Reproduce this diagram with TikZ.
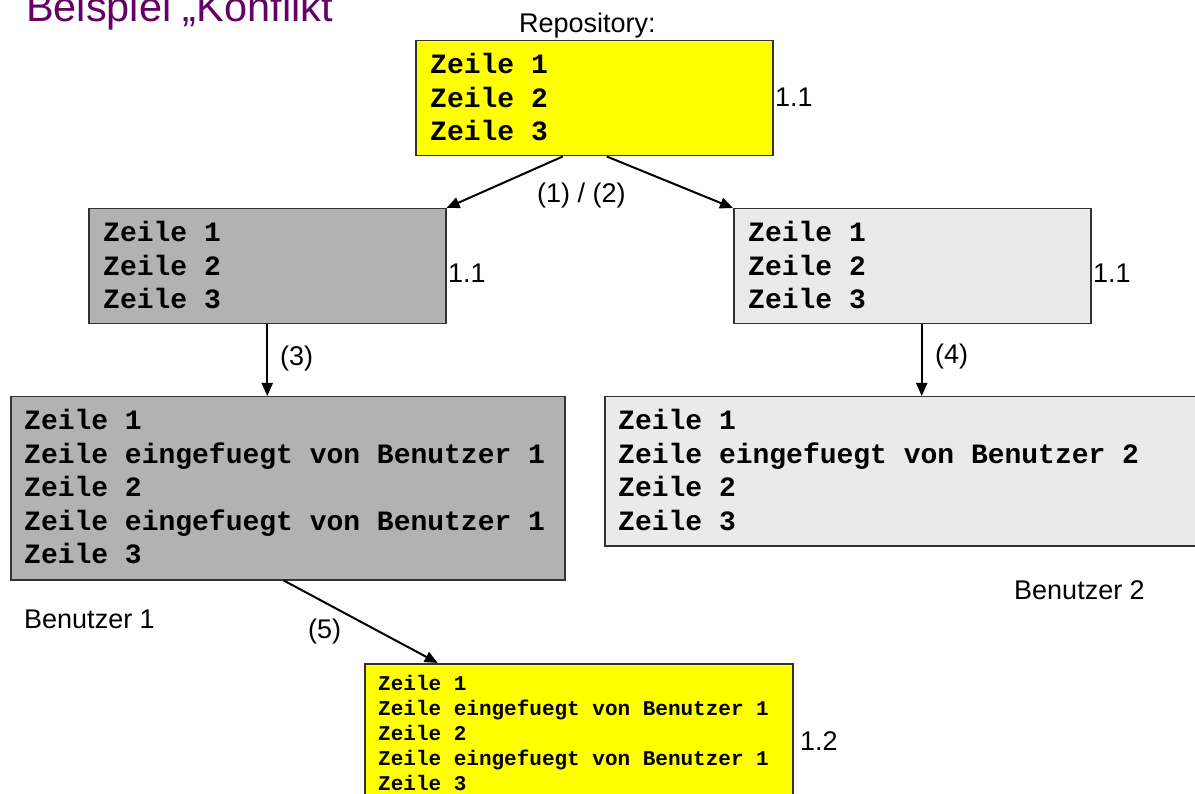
\documentclass[tikz,border=0pt]{standalone}
\usepackage{fontspec}
\setmainfont{Liberation Sans}
\setmonofont{Liberation Mono}
\usetikzlibrary{arrows.meta,calc}
\definecolor{ttl}{RGB}{102,0,102}
\definecolor{yel}{RGB}{255,255,0}
\definecolor{dgray}{RGB}{178,178,178}
\definecolor{lgray}{RGB}{234,234,234}
\definecolor{bord}{RGB}{50,50,50}
\tikzset{
  box/.style={draw=bord, line width=1.5pt, rectangle, inner sep=0pt, anchor=north west},
  bigmono/.style={font=\fontsize{28}{34}\selectfont\ttfamily\bfseries, anchor=base west, inner sep=0pt},
  smallmono/.style={font=\fontsize{21}{25}\selectfont\ttfamily\bfseries, anchor=base west, inner sep=0pt},
  lbl/.style={font=\fontsize{27}{32}\selectfont, anchor=base west, inner sep=0pt},
  arr/.style={line width=2pt, -{Triangle[length=13pt,width=11pt]}}
}
\begin{document}
\begin{tikzpicture}[x=1pt,y=-1pt]
\useasboundingbox (0,0) rectangle (1195,794);
\fill[white] (0,0) rectangle (1195,794);
% title
\node[font=\fontsize{41.5}{48}\selectfont, text=ttl, anchor=base west, inner sep=0pt] (title) at (26,22) {Beispiel „Konflikt};
\node[lbl] (repolbl) at (519,33) {Repository:};
% boxes
\node[box, fill=yel, minimum width=357pt, minimum height=115pt] (rep) at (415,40) {};
\node[box, fill=dgray, minimum width=357pt, minimum height=115pt] (g1) at (88,208) {};
\node[box, fill=lgray, minimum width=357pt, minimum height=115pt] (l1) at (733,208) {};
\node[box, fill=dgray, minimum width=554pt, minimum height=183pt] (g1b) at (10,396) {};
\node[box, fill=lgray, minimum width=600pt, minimum height=149pt] (l1b) at (604,396) {};
\node[box, fill=yel, minimum width=428pt, minimum height=150pt] (ny) at (364,663) {};
% texts
\foreach \t [count=\i] in {Zeile 1,Zeile 2,Zeile 3}{
  \node[bigmono] (rep-\i) at (430,{74+33.5*(\i-1)}) {\t};
  \node[bigmono] (g1-\i) at (103,{242+33.5*(\i-1)}) {\t};
  \node[bigmono] (l1-\i) at (748,{242+33.5*(\i-1)}) {\t};
}
\foreach \t [count=\i] in {Zeile 1,Zeile eingefuegt von Benutzer 1,Zeile 2,Zeile eingefuegt von Benutzer 1,Zeile 3}{
  \node[bigmono] (g1b-\i) at (24,{430+33.4*(\i-1)}) {\t};
  \node[smallmono] (ny-\i) at (378,{690+25*(\i-1)}) {\t};
}
\foreach \t [count=\i] in {Zeile 1,Zeile eingefuegt von Benutzer 2,Zeile 2,Zeile 3}{
  \node[bigmono] (l1b-\i) at (618,{430+33.4*(\i-1)}) {\t};
}
% version labels
\node[lbl] (v1) at (775,107) {1.1};
\node[lbl] (v2) at (448,283) {1.1};
\node[lbl] (v3) at (1093,283) {1.1};
\node[lbl] (v4) at (800,750) {1.2};
\node[lbl] (b1) at (24,628) {Benutzer 1};
\node[lbl] (b2) at (1014,599) {Benutzer 2};
% arrows
\draw[arr] ([xshift=-31.5pt]rep.south) -- (g1.north east);
\draw[arr] ([xshift=12.5pt]rep.south) -- (l1.north west);
\node[lbl] (s12) at (537,203) {(1) / (2)};
\draw[arr] (g1.south) -- (g1.south |- g1b.north);
\node[lbl] (s3) at (280,366) {(3)};
\coordinate (l1s) at ([xshift=9.5pt]l1.south);
\draw[arr] (l1s) -- (l1s |- l1b.north);
\node[lbl] (s4) at (935,364) {(4)};
\draw[arr] ([xshift=-4pt]g1b.south) -- ([xshift=-141pt]ny.north);
\node[lbl] (s5) at (308,638) {(5)};
\end{tikzpicture}
\end{document}
